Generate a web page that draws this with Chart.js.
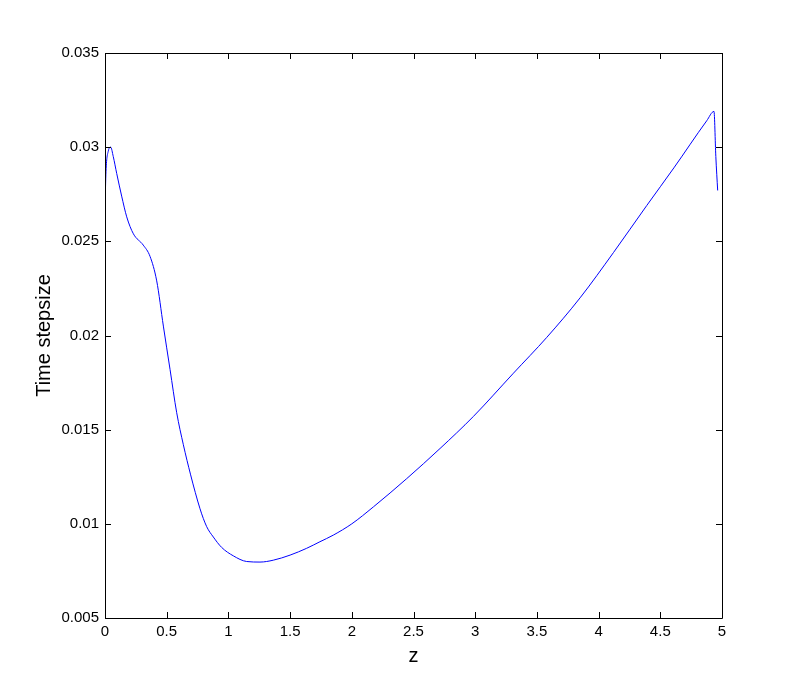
<!DOCTYPE html>
<html>
<head>
<meta charset="utf-8">
<script src="https://cdn.jsdelivr.net/npm/chart.js@4/dist/chart.umd.min.js"></script>
<style>
  html, body { margin: 0; padding: 0; background: #fff; }
  #wrap { width: 798px; height: 695px; }
</style>
</head>
<body>
<div id="wrap"><canvas id="chart" width="798" height="695"></canvas></div>
<script>
// values
var zValues = [0, 0.008, 0.027, 0.046, 0.067, 0.095, 0.135, 0.176, 0.23, 0.31,
    0.365, 0.419, 0.473, 0.527, 0.581, 0.635, 0.694, 0.77, 0.824, 0.878,
    0.945, 1.04, 1.148, 1.256, 1.364, 1.5, 1.634, 1.742, 1.85, 2.0,
    2.175, 2.445, 2.715, 2.985, 3.31, 3.58, 3.85, 4.12, 4.39,
    4.61, 4.876, 4.935, 4.95, 4.965];
var stepValues = [0.0268, 0.0287, 0.0298, 0.0300, 0.0295, 0.0286, 0.0274, 0.0263, 0.0254, 0.0248,
    0.0242, 0.0229, 0.0205, 0.0182, 0.0159, 0.0142, 0.0126, 0.0108, 0.00985, 0.0093,
    0.00875, 0.0083, 0.0080, 0.00797, 0.00807, 0.00834, 0.0087, 0.00905, 0.0094, 0.0100,
    0.0109, 0.0124, 0.0140, 0.0157, 0.0180, 0.0199, 0.0220, 0.0244, 0.0269,
    0.0289, 0.0314, 0.0319, 0.0295, 0.0277];
var xTicks = [0, 0.5, 1, 1.5, 2, 2.5, 3, 3.5, 4, 4.5, 5];
var yTicks = [0.005, 0.01, 0.015, 0.02, 0.025, 0.03, 0.035];

var points = zValues.map(function(z, i) {
    return {x: z, y: stepValues[i]};
});

// matlab style box with inward ticks on all four sides
var boxPlugin = {
    id: 'box',
    afterDraw: function(chart) {
        var ctx = chart.ctx,
            a = chart.chartArea,
            xs = chart.scales.x,
            ys = chart.scales.y,
            len = 6;
        ctx.save();
        ctx.strokeStyle = '#000';
        ctx.lineWidth = 1;
        ctx.beginPath();
        ctx.rect(Math.round(a.left) + 0.5, Math.round(a.top) + 0.5,
            Math.round(a.right - a.left), Math.round(a.bottom - a.top));
        xTicks.forEach(function(t) {
            var px = Math.round(xs.getPixelForValue(t)) + 0.5;
            ctx.moveTo(px, a.bottom);
            ctx.lineTo(px, a.bottom - len);
            ctx.moveTo(px, a.top);
            ctx.lineTo(px, a.top + len);
        });
        yTicks.forEach(function(t) {
            var py = Math.round(ys.getPixelForValue(t)) + 0.5;
            ctx.moveTo(a.left, py);
            ctx.lineTo(a.left + len, py);
            ctx.moveTo(a.right, py);
            ctx.lineTo(a.right - len, py);
        });
        ctx.stroke();
        ctx.restore();
    }
};

var tickFont = {family: 'Liberation Sans, Arial, sans-serif', size: 15};
var titleFont = {family: 'Liberation Sans, Arial, sans-serif', size: 20};

var ctx = document.getElementById('chart');
new Chart(ctx, {
    type: 'line',
    data: {
        datasets: [{
            data: points,
            borderColor: '#0000ff',
            borderWidth: 1,
            pointRadius: 0,
            fill: false,
            cubicInterpolationMode: 'monotone'
        }]
    },
    options: {
        responsive: false,
        animation: false,
        events: [],
        layout: {padding: {top: 53, right: 76, left: 0, bottom: 0}},
        plugins: {legend: {display: false}, tooltip: {enabled: false}},
        scales: {
            x: {
                type: 'linear',
                min: 0,
                max: 5,
                grid: {display: false, drawTicks: false},
                border: {display: false},
                afterBuildTicks: function(s) {
                    s.ticks = xTicks.map(function(v) { return {value: v}; });
                },
                afterFit: function(s) { s.height = 77; },
                ticks: {
                    color: '#000',
                    font: tickFont,
                    padding: 5,
                    maxRotation: 0,
                    callback: function(v) { return String(+v.toFixed(3)); }
                },
                title: {display: true, text: 'z', color: '#000', font: titleFont, padding: {top: 0, bottom: 27}}
            },
            y: {
                type: 'linear',
                min: 0.005,
                max: 0.035,
                grid: {display: false, drawTicks: false},
                border: {display: false},
                afterBuildTicks: function(s) {
                    s.ticks = yTicks.map(function(v) { return {value: v}; });
                },
                afterFit: function(s) { s.width = 105; },
                ticks: {
                    color: '#000',
                    font: tickFont,
                    padding: 6,
                    callback: function(v) { return String(+v.toFixed(4)); }
                },
                title: {display: true, text: 'Time stepsize', color: '#000', font: titleFont, padding: {top: 32, bottom: 0}}
            }
        }
    },
    plugins: [boxPlugin]
});
</script>
</body>
</html>
